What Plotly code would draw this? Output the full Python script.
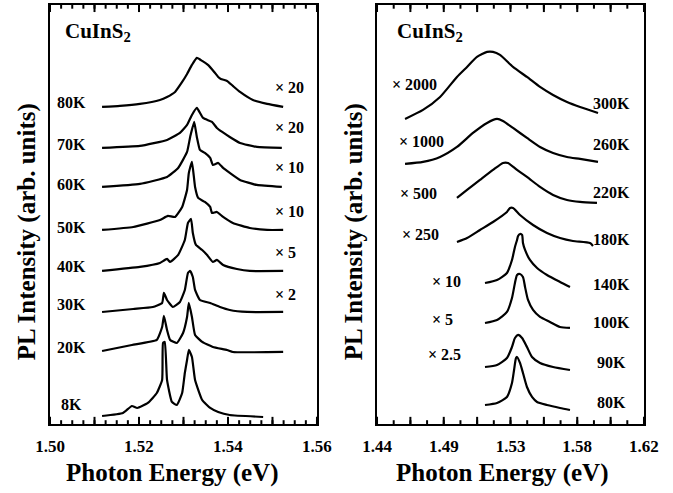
import plotly.graph_objects as go

# ---------------- Left panel: 8K - 80K (energy in eV, intensity in arb. units, offset for clarity)
L_8K_E = [1.5117, 1.5164, 1.5184, 1.5196, 1.5220, 1.5240, 1.5252, 1.5254, 1.5258, 1.5263, 1.5274, 1.5285,
          1.5297, 1.5303, 1.5308, 1.5312, 1.5319, 1.5326, 1.5342, 1.5360, 1.5378, 1.5404, 1.5479]
L_8K_I = [0.8, 1.1, 1.8, 1.6, 2.1, 3.1, 4.4, 8.1, 8.2, 4.4, 2.2, 1.9,
          3.1, 5.1, 6.4, 7.4, 6.7, 4.4, 2.4, 1.6, 1.2, 0.9, 0.7]

L_20K_E = [1.5117, 1.5184, 1.5240, 1.5252, 1.5256, 1.5263, 1.5270, 1.5285, 1.5299, 1.5308, 1.5312, 1.5319,
           1.5326, 1.5342, 1.5366, 1.5398, 1.5411, 1.5524]
L_20K_I = [7.3, 7.9, 8.4, 9.7, 10.8, 9.4, 8.4, 8.1, 9.1, 10.7, 12.1, 10.7,
           8.9, 8.2, 7.7, 7.4, 7.2, 7.2]

L_30K_E = [1.5117, 1.5187, 1.5231, 1.5252, 1.5256, 1.5263, 1.5276, 1.5292, 1.5303, 1.5310, 1.5315, 1.5321,
           1.5326, 1.5337, 1.5360, 1.5382, 1.5404, 1.5443, 1.5524]
L_30K_I = [11.2, 11.5, 11.7, 12.1, 13.1, 12.4, 11.7, 12.2, 13.4, 15.1, 15.3, 14.7,
           13.4, 12.4, 12.1, 11.7, 11.4, 11.2, 11.2]

L_40K_E = [1.5117, 1.5202, 1.5247, 1.5263, 1.5270, 1.5288, 1.5303, 1.5310, 1.5317, 1.5321, 1.5328, 1.5342,
           1.5353, 1.5366, 1.5375, 1.5389, 1.5420, 1.5449, 1.5524]
L_40K_I = [15.3, 15.7, 16.1, 16.5, 16.2, 16.9, 18.4, 20.1, 20.5, 19.1, 17.9, 17.4,
           16.9, 16.2, 16.4, 15.9, 15.5, 15.3, 15.3]

L_50K_E = [1.5117, 1.5187, 1.5247, 1.5265, 1.5281, 1.5297, 1.5308, 1.5312, 1.5319, 1.5326, 1.5333, 1.5348,
           1.5360, 1.5364, 1.5375, 1.5389, 1.5411, 1.5449, 1.5488, 1.5524]
L_50K_I = [19.4, 19.7, 20.4, 20.8, 20.7, 21.7, 23.4, 25.1, 26.2, 23.7, 22.6, 22.2,
           21.7, 21.1, 21.2, 20.7, 20.1, 19.6, 19.4, 19.4]

L_60K_E = [1.5117, 1.5202, 1.5263, 1.5288, 1.5308, 1.5315, 1.5324, 1.5330, 1.5337, 1.5348, 1.5360, 1.5366,
           1.5378, 1.5389, 1.5404, 1.5427, 1.5465, 1.5521]
L_60K_I = [23.7, 24.0, 24.7, 25.6, 27.2, 28.7, 30.2, 28.7, 27.4, 27.1, 26.6, 25.9,
           26.1, 25.6, 25.1, 24.4, 23.9, 23.7]

L_70K_E = [1.5117, 1.5202, 1.5263, 1.5292, 1.5308, 1.5319, 1.5330, 1.5344, 1.5364, 1.5375, 1.5387, 1.5404,
           1.5427, 1.5465, 1.5521]
L_70K_I = [27.6, 27.8, 28.4, 29.1, 29.9, 30.9, 31.6, 30.6, 30.2, 29.6, 29.2, 28.7,
           28.1, 27.7, 27.6]

L_80K_E = [1.5117, 1.5157, 1.5202, 1.5247, 1.5263, 1.5281, 1.5297, 1.5308, 1.5319, 1.5330, 1.5342, 1.5355,
           1.5369, 1.5378, 1.5384, 1.5398, 1.5411, 1.5427, 1.5456, 1.5488, 1.5524]
L_80K_I = [31.7, 31.8, 32.0, 32.4, 32.7, 33.2, 34.2, 35.0, 35.9, 36.6, 36.3, 35.9,
           35.2, 34.7, 34.5, 34.3, 33.8, 33.2, 32.4, 32.0, 31.7]

left_series = [(L_8K_E, L_8K_I), (L_20K_E, L_20K_I), (L_30K_E, L_30K_I), (L_40K_E, L_40K_I),
               (L_50K_E, L_50K_I), (L_60K_E, L_60K_I), (L_70K_E, L_70K_I), (L_80K_E, L_80K_I)]
left_temps = ["8K", "20K", "30K", "40K", "50K", "60K", "70K", "80K"]
left_temp_y = [1.9, 7.6, 11.9, 15.7, 19.6, 23.9, 27.9, 32.1]
left_mult = ["\u00d7 2", "\u00d7 5", "\u00d7 10", "\u00d7 10", "\u00d7 20", "\u00d7 20"]
left_mult_y = [12.9, 17.1, 21.2, 25.6, 29.6, 33.6]

# ---------------- Right panel: 80K - 300K
R_80K_E = [1.5128, 1.5209, 1.5276, 1.5310, 1.5324, 1.5337, 1.5344, 1.5364, 1.5384, 1.5411, 1.5445, 1.5479,
           1.5546, 1.5634, 1.5701]
R_80K_I = [1.9, 2.1, 2.7, 4.1, 5.4, 6.6, 6.7, 6.1, 5.1, 3.7, 2.7, 2.2, 1.9, 1.6, 1.4]

R_90K_E = [1.5128, 1.5209, 1.5276, 1.5310, 1.5330, 1.5351, 1.5378, 1.5411, 1.5445, 1.5499, 1.5587, 1.5701]
R_90K_I = [5.7, 5.9, 6.6, 7.7, 8.6, 8.9, 8.6, 7.7, 6.7, 6.1, 5.7, 5.4]

R_100K_E = [1.5128, 1.5209, 1.5276, 1.5310, 1.5330, 1.5344, 1.5364, 1.5384, 1.5398, 1.5418, 1.5452, 1.5499,
            1.5566, 1.5634, 1.5701]
R_100K_I = [10.1, 10.4, 11.2, 12.6, 14.1, 14.9, 15.0, 14.7, 13.7, 12.4, 11.4, 10.7, 10.2, 9.7, 9.6]

R_140K_E = [1.5128, 1.5209, 1.5276, 1.5310, 1.5330, 1.5344, 1.5351, 1.5364, 1.5378, 1.5384, 1.5398, 1.5431,
            1.5479, 1.5546, 1.5634, 1.5701]
R_140K_I = [14.1, 14.4, 15.1, 16.4, 17.7, 18.4, 18.8, 19.0, 18.9, 18.1, 17.4, 16.4, 15.6, 14.9, 14.2, 13.7]

R_180K_E = [1.4939, 1.5007, 1.5094, 1.5182, 1.5276, 1.5297, 1.5317, 1.5364, 1.5452, 1.5546, 1.5634, 1.5721,
            1.5836, 1.5856]
R_180K_I = [18.2, 18.6, 19.4, 20.2, 21.2, 21.6, 21.6, 20.9, 19.9, 19.1, 18.6, 18.3, 18.1, 17.8]

R_220K_E = [1.4939, 1.5007, 1.5094, 1.5182, 1.5249, 1.5283, 1.5344, 1.5411, 1.5499, 1.5587, 1.5681, 1.5769,
            1.5883]
R_220K_I = [22.6, 23.4, 24.4, 25.4, 26.1, 26.1, 25.4, 24.7, 23.7, 22.9, 22.4, 22.2, 22.1]

R_260K_E = [1.4589, 1.4710, 1.4825, 1.4939, 1.5047, 1.5142, 1.5209, 1.5249, 1.5317, 1.5411, 1.5499, 1.5587,
            1.5681, 1.5769, 1.5890]
R_260K_I = [26.0, 26.2, 26.7, 27.7, 29.1, 30.1, 30.5, 30.3, 29.6, 28.6, 27.7, 27.1, 26.7, 26.5, 26.2]

R_300K_E = [1.4589, 1.4710, 1.4825, 1.4939, 1.5007, 1.5074, 1.5142, 1.5182, 1.5229, 1.5317, 1.5411, 1.5499,
            1.5587, 1.5681, 1.5769, 1.5890]
R_300K_I = [30.5, 31.4, 32.7, 34.7, 35.7, 36.7, 37.2, 37.2, 36.9, 35.7, 34.7, 33.7, 32.9, 32.2, 31.7, 31.1]

right_series = [(R_80K_E, R_80K_I), (R_90K_E, R_90K_I), (R_100K_E, R_100K_I), (R_140K_E, R_140K_I),
                (R_180K_E, R_180K_I), (R_220K_E, R_220K_I), (R_260K_E, R_260K_I), (R_300K_E, R_300K_I)]
right_temps = ["80K", "90K", "100K", "140K", "180K", "220K", "260K", "300K"]
right_temp_y = [2.1, 6.1, 10.1, 13.9, 18.4, 23.1, 27.9, 32.0]
right_mult = ["\u00d7 2.5", "\u00d7 5", "\u00d7 10", "\u00d7 250", "\u00d7 500", "\u00d7 1000", "\u00d7 2000"]
right_mult_y = [6.9, 10.4, 14.2, 18.9, 23.0, 28.2, 33.9]
right_mult_x = [1.4730, 1.4757, 1.4757, 1.4555, 1.4542, 1.4535, 1.4488]

# tick labels (only every other major tick is labelled)
left_tickvals = [1.50, 1.52, 1.54, 1.56]
left_ticktext = ["1.50", "1.52", "1.54", "1.56"]
right_tickvals = [1.44, 1.485, 1.53, 1.575, 1.62]
right_ticktext = ["1.44", "1.49", "1.53", "1.58", "1.62"]

# tick-mark positions (major and minor), in eV
left_major_ticks = [1.50, 1.51, 1.52, 1.53, 1.54, 1.55, 1.56]
left_minor_step = 0.0025
right_major_ticks = [1.44, 1.4625, 1.485, 1.5075, 1.53, 1.5525, 1.575, 1.5975, 1.62]
right_minor_step = 0.01125

FONT = "Liberation Serif, Times New Roman, serif"
fig = go.Figure()

for e, i in left_series:
    fig.add_trace(go.Scatter(x=e, y=i, mode="lines",
                             line=dict(color="black", width=2.2, shape="spline", smoothing=0.4),
                             xaxis="x", yaxis="y", showlegend=False))
for e, i in right_series:
    fig.add_trace(go.Scatter(x=e, y=i, mode="lines",
                             line=dict(color="black", width=2.2, shape="spline", smoothing=0.6),
                             xaxis="x2", yaxis="y2", showlegend=False))

ann = []
lab = dict(size=16, family=FONT, color="black", weight="bold")
for t, y in zip(left_temps, left_temp_y):
    ann.append(dict(x=1.5049, y=y, xref="x", yref="y", text=t, showarrow=False, font=lab,
                    xanchor="center", yanchor="middle"))
for t, y in zip(left_mult, left_mult_y):
    ann.append(dict(x=1.5501, y=y, xref="x", yref="y", text=t, showarrow=False, font=lab,
                    xanchor="left", yanchor="middle"))
for t, y in zip(right_temps, right_temp_y):
    ann.append(dict(x=1.5984, y=y, xref="x2", yref="y2", text=t, showarrow=False, font=lab,
                    xanchor="center", yanchor="middle"))
for t, y, x in zip(right_mult, right_mult_y, right_mult_x):
    ann.append(dict(x=x, y=y, xref="x2", yref="y2", text=t, showarrow=False, font=lab,
                    xanchor="left", yanchor="middle"))
title_font = dict(size=21, family=FONT, color="black", weight="bold")
ann.append(dict(x=1.5029, y=39.2, xref="x", yref="y", text="CuInS<sub>2</sub>", showarrow=False,
                font=title_font, xanchor="left", yanchor="middle"))
ann.append(dict(x=1.4521, y=39.2, xref="x2", yref="y2", text="CuInS<sub>2</sub>", showarrow=False,
                font=title_font, xanchor="left", yanchor="middle"))

axis_title_font = dict(size=25, family=FONT, color="black", weight="bold")
for xp in (0.2556, 0.7459):
    ann.append(dict(x=xp, y=0.0406, xref="paper", yref="paper", text="Photon Energy (eV)", showarrow=False,
                    font=axis_title_font, xanchor="center", yanchor="middle"))
for xp in (0.0401, 0.526):
    ann.append(dict(x=xp, y=0.531, xref="paper", yref="paper", text="PL Intensity (arb. units)",
                    showarrow=False, font=axis_title_font, textangle=-90, xanchor="center", yanchor="middle"))

# inward tick marks on the bottom and top edges of each panel, placed on the energy axis
shapes = []
MAJ_LEN, MIN_LEN = 0.017, 0.009   # fraction of the panel height

def add_ticks(xref, yref, majors, step):
    lo, hi = majors[0], majors[-1]
    n_minor = int(round((hi - lo) / step))
    minors = [lo + k * step for k in range(n_minor + 1)]
    for vals, ln in ((minors, MIN_LEN), (majors, MAJ_LEN)):
        for v in vals:
            for y0, y1 in ((0, ln), (1, 1 - ln)):
                shapes.append(dict(type="line", xref=xref, yref=yref + " domain", x0=v, x1=v, y0=y0, y1=y1,
                                   line=dict(color="black", width=2), layer="above"))

add_ticks("x", "y", left_major_ticks, left_minor_step)
add_ticks("x2", "y2", right_major_ticks, right_minor_step)

tick_font = dict(size=17, family=FONT, color="black", weight="bold")

def label_axis(domain, rng, tv, tt, anchor):
    return dict(domain=domain, range=rng, anchor=anchor, tickmode="array", tickvals=tv, ticktext=tt,
                ticks="", showline=True, linecolor="black", linewidth=2, mirror=True,
                showgrid=False, zeroline=False, tickfont=tick_font, automargin=False,
                ticklabelstandoff=6)

def yaxis(domain, anchor):
    return dict(domain=domain, range=[0, 41.9], anchor=anchor, showticklabels=False, ticks="",
                showline=True, linecolor="black", linewidth=2, mirror=True, showgrid=False, zeroline=False,
                automargin=False)

ydom = [0.14, 0.99]
fig.update_layout(
    template="none",
    width=673, height=493, margin=dict(l=0, r=0, t=0, b=0),
    paper_bgcolor="white", plot_bgcolor="white", showlegend=False,
    xaxis=label_axis([0.0743, 0.4710], [1.50, 1.56], left_tickvals, left_ticktext, "y"),
    yaxis=yaxis(ydom, "x"),
    xaxis2=label_axis([0.5602, 0.9569], [1.44, 1.62], right_tickvals, right_ticktext, "y2"),
    yaxis2=yaxis(ydom, "x2"),
    annotations=ann,
    shapes=shapes,
)

fig.write_html("out.html")
